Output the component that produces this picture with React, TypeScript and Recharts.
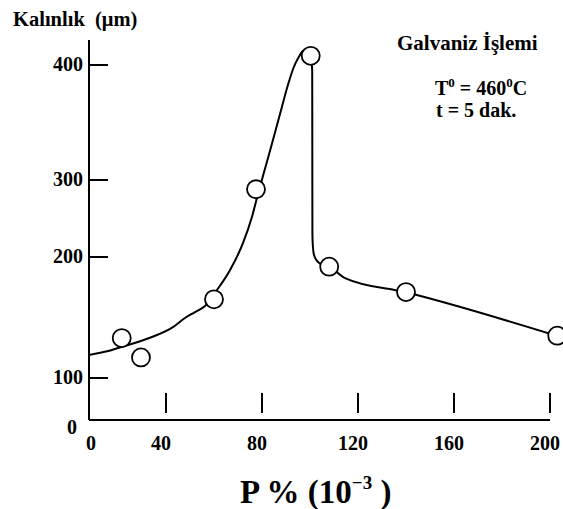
import React from 'react';
import { ComposedChart, Line, Scatter, XAxis, YAxis, ReferenceLine } from 'recharts';

// Measured points: P % (10^-3) and coating thickness (µm)
const pointP = [17, 27, 60, 77.5, 100.3, 108, 140, 203];
const pointT = [133, 117, 165, 288, 408, 192, 171, 135];

// Fitted curve drawn through the measurements
const curveP = [0, 10, 20.3, 32.7, 42.9, 47.9, 52.1, 56.25, 61.25, 66.7, 72.1, 75.8, 77.9, 80.4, 84.0, 87.5, 90.8, 93.1, 95.2, 97.1, 98.5, 100.3, 100.6, 100.92, 100.96, 101.0, 101.17, 101.67, 103.3, 105.4, 108, 114.6, 140, 203];
const curveT = [119, 122.3, 127.3, 133.9, 142.1, 149.6, 154.5, 159.5, 172.7, 189.3, 218.2, 251.9, 276.6, 303.5, 330.4, 357.4, 382.6, 397.4, 406.5, 412.2, 413, 408, 403, 395.7, 326, 231, 215.6, 202.5, 195.9, 193, 191.7, 182.6, 170.8, 134.7];

// Axis tick labels
const xTickValues = [0, 40, 80, 120, 160, 200];
const yTickValues = [0, 100, 200, 300, 400];

// The original (hand drawn) axes are not evenly graduated: piecewise calibration
const X_CAL_V = [0, 40, 200];
const X_CAL_D = [0, 77, 461];
const Y_CAL_V = [0, 100, 200, 300, 400];
const Y_CAL_D = [0, 42, 163, 240, 355];

function pw(v: number, kv: number[], kd: number[]): number {
  let i = 0;
  while (i < kv.length - 2 && v > kv[i + 1]) i++;
  const t = (v - kv[i]) / (kv[i + 1] - kv[i]);
  return kd[i] + t * (kd[i + 1] - kd[i]);
}
const wx = (v: number) => pw(v, X_CAL_V, X_CAL_D);
const wy = (v: number) => pw(v, Y_CAL_V, Y_CAL_D);
const ux = (d: number) => pw(d, X_CAL_D, X_CAL_V);
const uy = (d: number) => pw(d, Y_CAL_D, Y_CAL_V);

const curveData = curveP.map((p, i) => ({ x: wx(p), y: wy(curveT[i]) }));
const pointData = pointP.map((p, i) => ({ x: wx(p), y: wy(pointT[i]) }));

const FONT = "'Liberation Serif', 'Times New Roman', serif";

const XTick = (props: any) => {
  const { x, y, payload } = props;
  const v = Math.round(ux(payload.value));
  return (
    <g>
      {v !== 0 && (
        <line x1={x} x2={x} y1={y - 7} y2={y - 27} stroke="#000" strokeWidth={2} />
      )}
      <text
        x={x + (v === 0 ? 2 : -5)}
        y={y + 30}
        textAnchor="middle"
        fontFamily={FONT}
        fontWeight="bold"
        fontSize={20}
        fill="#000"
      >
        {v}
      </text>
    </g>
  );
};

const YTick = (props: any) => {
  const { x, y, payload } = props;
  const v = Math.round(uy(payload.value));
  return (
    <g>
      {v !== 0 && (
        <line x1={x} x2={x + 19} y1={y} y2={y} stroke="#000" strokeWidth={2} />
      )}
      <text
        x={x - (v === 0 ? 12 : 6)}
        y={y + (v === 0 ? 14 : 6)}
        textAnchor="end"
        fontFamily={FONT}
        fontWeight="bold"
        fontSize={20}
        fill="#000"
      >
        {v}
      </text>
    </g>
  );
};

const Circle = (props: any) => {
  const { cx, cy } = props;
  return <circle cx={cx} cy={cy} r={9} fill="#fff" stroke="#000" strokeWidth={1.8} />;
};

export default function App() {
  return (
    <div style={{ position: 'absolute', left: 0, top: 0, width: 563, height: 509, background: '#fff' }}>
      <ComposedChart
        width={563}
        height={509}
        margin={{ top: 40, right: 0, bottom: 29, left: 29 }}
      >
        <XAxis
          type="number"
          dataKey="x"
          domain={[0, 474]}
          allowDataOverflow
          ticks={xTickValues.map(wx)}
          tick={<XTick />}
          tickSize={0}
          tickMargin={0}
          tickLine={false}
          axisLine={false}
          height={60}
          interval={0}
        />
        <YAxis
          type="number"
          dataKey="y"
          domain={[0, 380]}
          allowDataOverflow
          ticks={yTickValues.map(wy)}
          tick={<YTick />}
          tickSize={0}
          tickMargin={0}
          tickLine={false}
          axisLine={{ stroke: '#000', strokeWidth: 2 }}
          width={60}
          interval={0}
        />
        <ReferenceLine
          segment={[{ x: wx(0), y: 0 }, { x: wx(200), y: 0 }]}
          stroke="#000"
          strokeWidth={2}
        />
        <Line
          data={curveData}
          dataKey="y"
          type="monotone"
          stroke="#000"
          strokeWidth={2}
          dot={false}
          activeDot={false}
          isAnimationActive={false}
        />
        <Scatter
          data={pointData}
          dataKey="y"
          shape={<Circle />}
          isAnimationActive={false}
        />
      </ComposedChart>
      <svg
        width={563}
        height={509}
        style={{ position: 'absolute', left: 0, top: 0, pointerEvents: 'none' }}
      >
        <g fontFamily={FONT} fontWeight="bold" fill="#000">
          <text x={13} y={26} fontSize={20.5} style={{ whiteSpace: 'pre' }}>
            Kalınlık  (μm)
          </text>
          <text x={397} y={50} fontSize={21}>
            Galvaniz İşlemi
          </text>
          <text x={435} y={95} fontSize={20}>
            <tspan>T</tspan>
            <tspan dy={-8} fontSize={13}>0</tspan>
            <tspan dy={8}> = 460</tspan>
            <tspan dy={-8} fontSize={13}>0</tspan>
            <tspan dy={8}>C</tspan>
          </text>
          <text x={436} y={117} fontSize={20}>
            t = 5 dak.
          </text>
          <text x={240} y={503} fontSize={33} style={{ whiteSpace: 'pre' }}>
            <tspan>P % (10</tspan>
            <tspan dy={-14} fontSize={19}>−3</tspan>
            <tspan dy={14}> )</tspan>
          </text>
        </g>
      </svg>
    </div>
  );
}
